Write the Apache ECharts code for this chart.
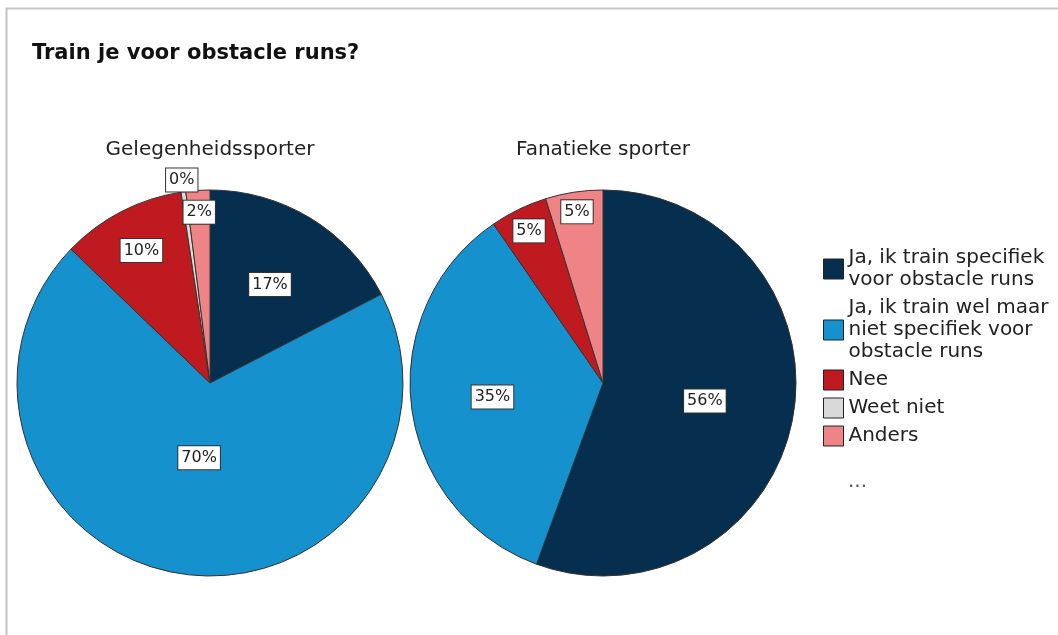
<!DOCTYPE html>
<html>
<head>
<meta charset="utf-8">
<script src="https://cdn.jsdelivr.net/npm/echarts@6/dist/echarts.min.js"></script>
<style>
  html, body { margin: 0; padding: 0; background: #fff; }
  #chart { width: 1058px; height: 635px; }
</style>
</head>
<body>
<div id="chart"></div>
<script>
// categories & values (percent)
var categories = [
  'Ja, ik train specifiek voor obstacle runs',
  'Ja, ik train wel maar niet specifiek voor obstacle runs',
  'Nee',
  'Weet niet',
  'Anders'
];
var legendNames = {
  'Ja, ik train specifiek voor obstacle runs': 'Ja, ik train specifiek\nvoor obstacle runs',
  'Ja, ik train wel maar niet specifiek voor obstacle runs': 'Ja, ik train wel maar\nniet specifiek voor\nobstacle runs'
};
var groups = ['Gelegenheidssporter', 'Fanatieke sporter'];
var gelegenheid = [17.4, 69.8, 10.4, 0.4, 2.0];
var fanatiek = [55.6, 34.8, 4.8, 0, 4.8];
var colors = ['#062e4f', '#1591cd', '#c01a21', '#d9d9d9', '#ef8486'];

// style: where each label sits along the slice radius (0 = centre, 1 = edge), per drawn slice
var labelRadius = [
  [0.58, 0.38, 0.75, 1.03, 0.86],
  [0.52, 0.56, 0.85, 0.87]
];
var centers = [[210, 383], [603, 383]];
var radius = 193;
var FONT = 'DejaVu Sans, Verdana, sans-serif';

function toData(values) {
  return categories.map(function (c, i) {
    return { name: c, value: values[i] };
  }).filter(function (d) { return d.value > 0; });
}

var chart = echarts.init(document.getElementById('chart'));

function pieSeries(idx, values) {
  return {
    type: 'pie',
    name: groups[idx],
    center: centers[idx],
    radius: radius,
    startAngle: 90,
    clockwise: true,
    avoidLabelOverlap: false,
    animation: false,
    itemStyle: { borderColor: '#333', borderWidth: 1 },
    label: {
      show: true,
      position: 'inside',
      formatter: function (p) { return Math.round(p.value) + '%'; },
      color: '#222',
      fontFamily: FONT,
      fontSize: 16,
      backgroundColor: '#fff',
      borderColor: '#333',
      borderWidth: 1,
      padding: [4, 3, 3, 3]
    },
    labelLine: { show: false },
    emphasis: { disabled: true },
    labelLayout: function (p) {
      var c = centers[p.seriesIndex];
      var r = p.labelRect;
      var cx = r.x + r.width / 2, cy = r.y + r.height / 2;
      var k = labelRadius[p.seriesIndex][p.dataIndex] / 0.5 - 1;
      return { dx: (cx - c[0]) * k, dy: (cy - c[1]) * k };
    },
    data: toData(values)
  };
}

var option = {
  color: colors,
  backgroundColor: '#fff',
  title: [
    {
      text: 'Train je voor obstacle runs?',
      left: 32, top: 43, padding: 0,
      textStyle: { fontFamily: FONT, fontSize: 21, fontWeight: 'bold', color: '#111' }
    },
    {
      text: groups[0], left: 210, top: 140, padding: 0, textAlign: 'center',
      textStyle: { fontFamily: FONT, fontSize: 20, fontWeight: 'normal', color: '#222' }
    },
    {
      text: groups[1], left: 603, top: 140, padding: 0, textAlign: 'center',
      textStyle: { fontFamily: FONT, fontSize: 20, fontWeight: 'normal', color: '#222' }
    }
  ],
  legend: {
    orient: 'vertical',
    left: 823, top: 247, padding: 0,
    itemWidth: 20, itemHeight: 20,
    itemGap: 6,
    icon: 'rect',
    data: categories,
    selectedMode: false,
    itemStyle: { borderColor: '#222', borderWidth: 1 },
    formatter: function (name) { return legendNames[name] || name; },
    textStyle: { fontFamily: FONT, fontSize: 20, color: '#222', lineHeight: 22 }
  },
  graphic: [
    {
      type: 'rect', silent: true, z: -1,
      shape: { x: 6.5, y: 8.5, width: 1100, height: 700 },
      style: { fill: 'none', stroke: '#c4c4c4', lineWidth: 2 }
    },
    {
      type: 'text', left: 848, top: 472,
      style: { text: '...', font: '20px DejaVu Sans, Verdana, sans-serif', fill: '#555' }
    }
  ],
  series: [pieSeries(0, gelegenheid), pieSeries(1, fanatiek)]
};

chart.setOption(option);
</script>
</body>
</html>
